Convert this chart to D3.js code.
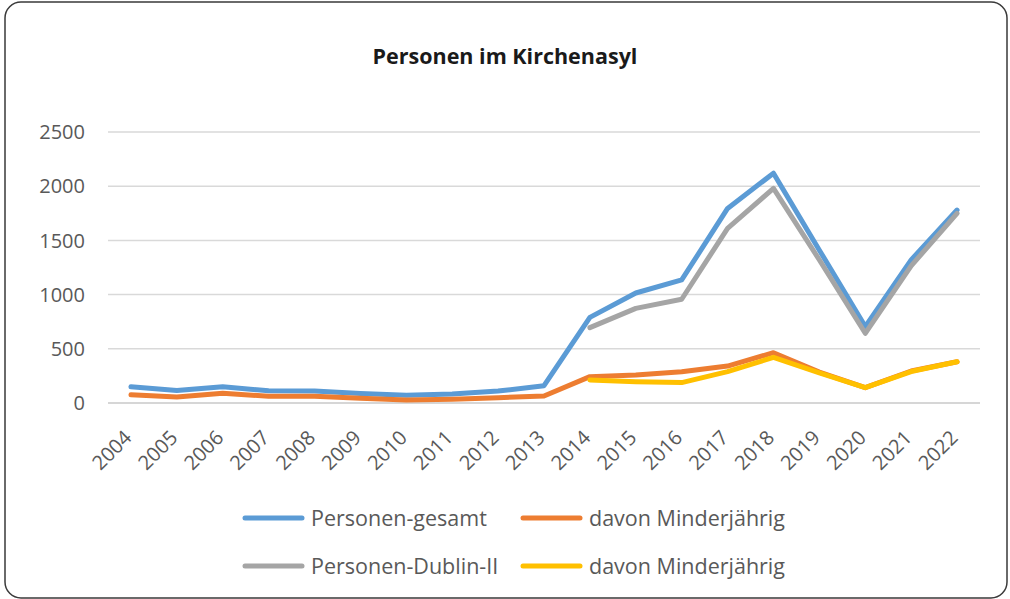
<!DOCTYPE html>
<html>
<head>
<meta charset="utf-8">
<script src="https://cdn.jsdelivr.net/npm/d3@7"></script>
<style>
  html, body { margin: 0; padding: 0; background: #fff; }
  svg text { font-family: "Open Sans", sans-serif; }
</style>
</head>
<body>
<div id="chart"></div>
<script>
// data
var years = ["2004", "2005", "2006", "2007", "2008", "2009", "2010", "2011", "2012", "2013",
  "2014", "2015", "2016", "2017", "2018", "2019", "2020", "2021", "2022"];
var gesamt = [150, 115, 150, 113, 110, 88, 72, 82, 110, 160,
  790, 1015, 1135, 1795, 2120, 1410, 705, 1320, 1780];
var gesamtMinder = [75, 55, 90, 62, 62, 43, 28, 34, 49, 65,
  243, 258, 289, 341, 464, 285, 141, 295, 381];
var dublin = [null, null, null, null, null, null, null, null, null, null,
  695, 873, 957, 1611, 1980, 1320, 643, 1265, 1750];
var dublinMinder = [null, null, null, null, null, null, null, null, null, null,
  212, 197, 188, 289, 421, 278, 141, 290, 381];
var yTicks = [0, 500, 1000, 1500, 2000, 2500];

var series = [
  { name: "Personen-gesamt", values: gesamt, color: "#5B9BD5" },
  { name: "davon Minderjährig", values: gesamtMinder, color: "#ED7D31" },
  { name: "Personen-Dublin-II", values: dublin, color: "#A5A5A5" },
  { name: "davon Minderjährig", values: dublinMinder, color: "#FFC000" }
];

var width = 1010, height = 599;

var svg = d3.select("#chart").append("svg")
  .attr("width", width)
  .attr("height", height);

// card border
svg.append("rect")
  .attr("x", 5).attr("y", 2)
  .attr("width", 1002).attr("height", 596)
  .attr("rx", 16).attr("ry", 16)
  .attr("fill", "#fff")
  .attr("stroke", "#3a3a3a")
  .attr("stroke-width", 1.5);

svg.append("text")
  .attr("x", 505).attr("y", 64)
  .attr("text-anchor", "middle")
  .style("font-size", "21.5px")
  .style("font-weight", "bold")
  .style("fill", "#1a1a1a")
  .text("Personen im Kirchenasyl");

var x = d3.scaleBand()
  .domain(years)
  .range([108, 980]);

var y = d3.scaleLinear()
  .domain([0, 2500])
  .range([403, 132]);

// gridlines
svg.append("g")
  .selectAll("line")
  .data(yTicks)
  .enter().append("line")
  .attr("x1", 108).attr("x2", 980)
  .attr("y1", function(d) { return y(d); })
  .attr("y2", function(d) { return y(d); })
  .attr("stroke", function(d) { return d === 0 ? "#c8c8c8" : "#d9d9d9"; })
  .attr("stroke-width", 1.5);

// y labels
svg.append("g")
  .selectAll("text")
  .data(yTicks)
  .enter().append("text")
  .attr("x", 85)
  .attr("y", function(d) { return y(d); })
  .attr("dy", "0.36em")
  .attr("text-anchor", "end")
  .style("font-size", "20px")
  .style("fill", "#595959")
  .text(function(d) { return d; });

// x labels, rotated
svg.append("g")
  .selectAll("text")
  .data(years)
  .enter().append("text")
  .attr("transform", function(d) {
    return "translate(" + (x(d) + x.bandwidth() / 2 + 2) + ",439) rotate(-45)";
  })
  .attr("text-anchor", "end")
  .style("font-size", "20px")
  .style("fill", "#595959")
  .text(function(d) { return d; });

var line = d3.line()
  .defined(function(d) { return d != null; })
  .x(function(d, i) { return x(years[i]) + x.bandwidth() / 2; })
  .y(function(d) { return y(d); });

svg.append("g")
  .selectAll("path")
  .data(series)
  .enter().append("path")
  .attr("d", function(s) { return line(s.values); })
  .attr("fill", "none")
  .attr("stroke", function(s) { return s.color; })
  .attr("stroke-width", 5)
  .attr("stroke-linejoin", "round")
  .attr("stroke-linecap", "round");

// legend, 2 x 2
var legendPos = [
  { x: 245, y: 518 }, { x: 523, y: 518 },
  { x: 245, y: 566 }, { x: 523, y: 566 }
];

var legend = svg.append("g")
  .selectAll("g")
  .data(series)
  .enter().append("g")
  .attr("transform", function(s, i) {
    return "translate(" + legendPos[i].x + "," + legendPos[i].y + ")";
  });

legend.append("line")
  .attr("x1", 0).attr("x2", 57)
  .attr("y1", 0).attr("y2", 0)
  .attr("stroke", function(s) { return s.color; })
  .attr("stroke-width", 5)
  .attr("stroke-linecap", "round");

legend.append("text")
  .attr("x", 66)
  .attr("y", 0)
  .attr("dy", "0.36em")
  .style("font-size", "21.5px")
  .style("fill", "#595959")
  .text(function(s) { return s.name; });
</script>
</body>
</html>
